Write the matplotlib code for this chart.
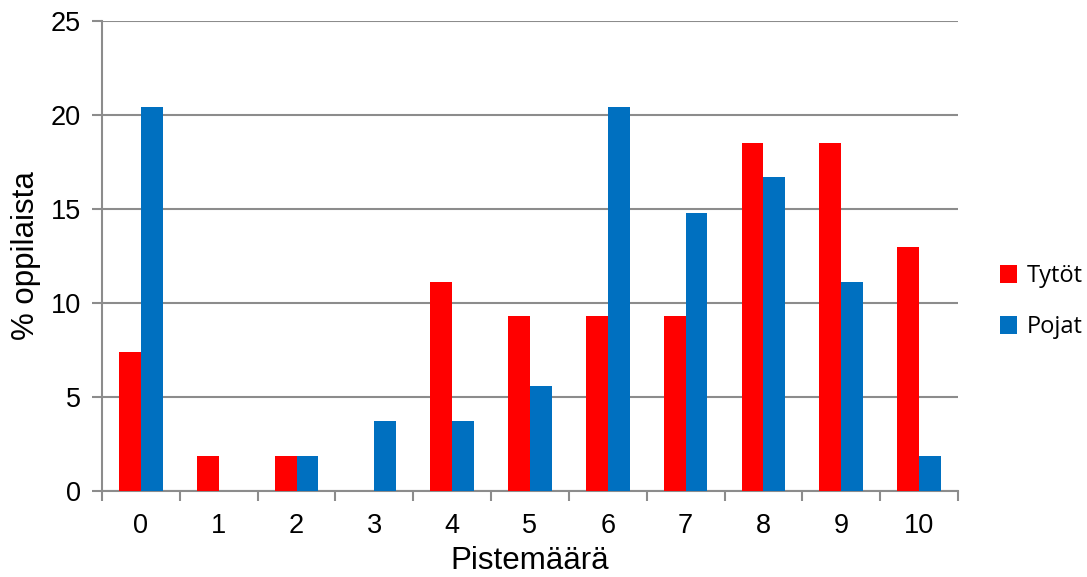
import matplotlib.pyplot as plt
import numpy as np

# Score distribution by gender (% of pupils)
scores = ["0", "1", "2", "3", "4", "5", "6", "7", "8", "9", "10"]
tytot = [7.4, 1.85, 1.85, 0.0, 11.1, 9.3, 9.3, 9.3, 18.5, 18.5, 13.0]
pojat = [20.4, 0.0, 1.85, 3.7, 3.7, 5.6, 20.4, 14.8, 16.7, 11.1, 1.85]

RED = "#FF0000"
BLUE = "#0070C0"
GRID = "#8C8C8C"

plt.rcParams["font.family"] = ["Liberation Sans", "DejaVu Sans"]

fig = plt.figure(figsize=(10.87, 5.77), dpi=100)
ax = fig.add_axes([0.0938, 0.149, 0.7875, 0.8146])

x = np.arange(len(scores))
w = 0.28
ax.bar(x - w / 2, tytot, width=w, color=RED, label="Tytöt", zorder=3)
ax.bar(x + w / 2, pojat, width=w, color=BLUE, label="Pojat", zorder=3)

ax.set_xlim(-0.5, len(scores) - 0.5)
ax.set_ylim(0, 25)
ax.set_yticks(np.arange(0, 26, 5))
ax.yaxis.grid(True, color=GRID, linewidth=1.5, zorder=0)

# tick marks sit between categories, labels in the middle
ax.set_xticks(np.arange(-0.5, len(scores), 1.0))
ax.set_xticklabels([])
ax.set_xticks(x, minor=True)
ax.set_xticklabels(scores, minor=True)
ax.tick_params(axis="x", which="major", length=7, width=1.5, color=GRID, direction="out")
ax.tick_params(axis="x", which="minor", length=0, labelsize=19.5, pad=16)
ax.tick_params(axis="y", length=7, width=1.5, color=GRID, labelsize=19.5, pad=8)

for side in ["top", "right"]:
    ax.spines[side].set_visible(False)
for side in ["left", "bottom"]:
    ax.spines[side].set_color(GRID)
    ax.spines[side].set_linewidth(1.5)

ax.set_xlabel("Pistemäärä", fontsize=22.5, labelpad=5)
ax.set_ylabel("% oppilaista", fontsize=22.5, labelpad=7)

fig.legend(
    loc="center left",
    bbox_to_anchor=(0.9, 0.477),
    frameon=False,
    prop={"family": ["Open Sans", "DejaVu Sans"], "size": 17},
    handlelength=0.75,
    handleheight=0.75,
    handletextpad=0.4,
    labelspacing=1.15,
)

fig.savefig("out.png", dpi=100)
plt.close(fig)
